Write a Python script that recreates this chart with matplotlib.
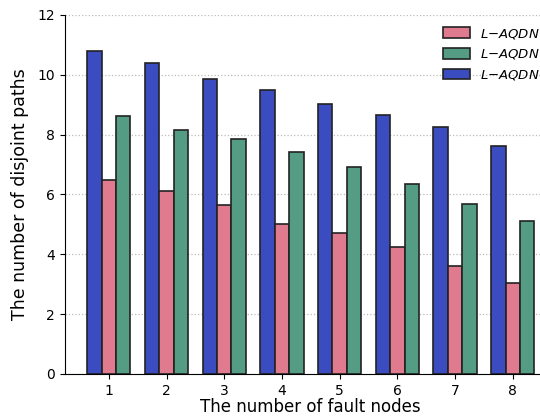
import numpy as np
import matplotlib.pyplot as plt

faults = [1, 2, 3, 4, 5, 6, 7, 8]
blue_vals = [10.78, 10.38, 9.87, 9.49, 9.03, 8.67, 8.24, 7.63]
pink_vals = [6.49, 6.13, 5.64, 5.02, 4.70, 4.24, 3.62, 3.05]
green_vals = [8.62, 8.15, 7.87, 7.41, 6.91, 6.35, 5.68, 5.11]
labels = [r'$L{-}AQDN$', r'$L{-}AQDN$', r'$L{-}AQDN$']

c_blue = '#3b4cc0'
c_pink = '#e07a8e'
c_green = '#549c84'

x = np.array(faults)
w = 0.25

fig = plt.figure(figsize=(5.4, 4.16), dpi=100)
ax = fig.add_axes([0.12, 0.101, 0.911, 0.863])

ec = dict(edgecolor='#222222', linewidth=1.2)
b_blue = ax.bar(x - w, blue_vals, w, color=c_blue, **ec)
b_pink = ax.bar(x, pink_vals, w, color=c_pink, **ec)
b_green = ax.bar(x + w, green_vals, w, color=c_green, **ec)

ax.set_ylim(0, 12)
ax.set_xticks(faults)
ax.set_axisbelow(True)
ax.yaxis.grid(True, linestyle=':', color='#bbbbbb', linewidth=0.9)
ax.spines['top'].set_visible(False)
ax.spines['right'].set_visible(False)
ax.tick_params(labelsize=10)

ax.set_xlabel('The number of fault nodes', fontsize=12, labelpad=0)
ax.set_ylabel('The number of disjoint paths', fontsize=12.5, labelpad=6)

ax.legend([b_pink, b_green, b_blue], labels, loc='upper right',
          bbox_to_anchor=(0.99, 1.0), frameon=False, fontsize=9.5,
          handlelength=2.0, handleheight=0.9, labelspacing=0.5)

fig.savefig('out.png', dpi=100)
